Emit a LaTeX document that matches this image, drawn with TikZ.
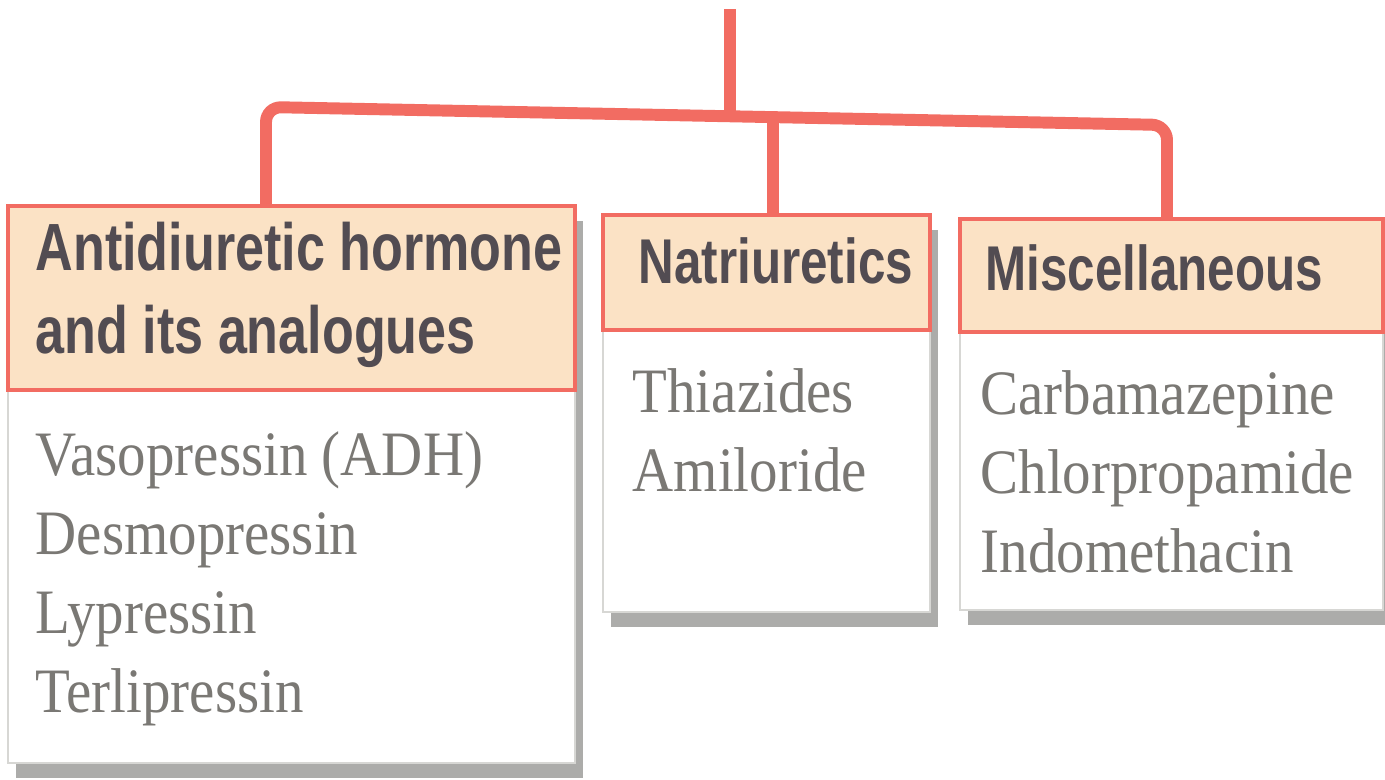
\documentclass[tikz,border=0pt]{standalone}
\usepackage{fontspec}
\usepackage{xcolor}
\usepackage{tikz}
\usetikzlibrary{positioning,calc,backgrounds}
\newfontfamily\headfont[FakeStretch=0.78]{Liberation Sans}
\newfontfamily\listfont[FakeStretch=0.9]{Liberation Serif}
\definecolor{cRed}{RGB}{242,108,98}
\definecolor{cPeach}{RGB}{251,226,197}
\definecolor{cHead}{RGB}{82,76,82}
\definecolor{cItem}{RGB}{122,120,116}
\definecolor{cShade}{RGB}{172,172,170}
\definecolor{cEdge}{RGB}{215,215,212}

\begin{document}
\begin{tikzpicture}[
  box/.style={draw, outer sep=0pt, inner sep=0pt},
  head/.style={box, fill=cPeach, draw=cRed, line width=1pt},
  list/.style={box, fill=white, draw=cEdge, line width=0.5pt},
  headtext/.style={anchor=base west, inner sep=0pt, align=left, text=cHead,
    font=\headfont\bfseries\fontsize{18}{23.6}\selectfont},
  listtext/.style={anchor=base west, inner sep=0pt, align=left, text=cItem,
    font=\listfont\fontsize{18}{22.4}\selectfont},
  link/.style={draw=cRed, line width=3.4pt, rounded corners=0.15cm},
  boxshadow/.style={fill=cShade},
]
  \useasboundingbox (0,0) rectangle (13.85,-7.79);

  \node[list, anchor=north west, minimum width=5.67cm, minimum height=3.73cm] at (0.08,-3.90) (adhlist) {};
  \node[head, minimum width=5.67cm, minimum height=1.84cm, above=0pt of adhlist] (adh) {};
  \node[list, anchor=north west, minimum width=3.27cm, minimum height=2.82cm] at (6.03,-3.30) (natlist) {};
  \node[head, minimum width=3.27cm, minimum height=1.15cm, above=0pt of natlist] (nat) {};
  \node[list, anchor=north west, minimum width=4.23cm, minimum height=2.78cm] at (9.60,-3.32) (misclist) {};
  \node[head, minimum width=4.23cm, minimum height=1.13cm, above=0pt of misclist] (misc) {};

  % base anchor of a multi-line node sits on its last line
  \node[headtext, font=\headfont\bfseries\fontsize{19}{23.6}\selectfont]
    at ([shift={(0.27,-1.47)}]adh.north west) (adhname) {Antidiuretic hormone\\and its analogues};
  \node[headtext] at ([shift={(0.35,-0.68)}]nat.north west) (natname) {Natriuretics};
  \node[headtext] at ([shift={(0.25,-0.71)}]misc.north west) (miscname) {Miscellaneous};

  \node[listtext] at ([shift={(0.27,-3.22)}]adhlist.north west) (adhitems)
    {Vasopressin (ADH)\\Desmopressin\\Lypressin\\Terlipressin};
  \node[listtext] at ([shift={(0.29,-1.61)}]natlist.north west) (natitems)
    {Thiazides\\Amiloride};
  \node[listtext] at ([shift={(0.20,-2.40)}]misclist.north west) (miscitems)
    {Carbamazepine\\Chlorpropamide\\Indomethacin};

  \coordinate (root) at (7.30,-0.09);
  \coordinate (barL) at (2.66,-1.07);
  \coordinate (barR) at (11.67,-1.25);
  \coordinate (barS) at ($(barL)!0.515!(barR)$);
  \coordinate (barM) at ($(barL)!0.5627!(barR)$);
  \draw[link] (barL |- adh.north) -- (barL) -- (barR) -- (barR |- misc.north);
  \draw[link] (root) -- (barS);
  \draw[link] (barM) -- (barM |- nat.north);

  \begin{scope}[on background layer]
    \foreach \b in {adh,nat,misc}
      \fill[boxshadow] ([shift={(0.08,-0.15)}]\b.north west) rectangle ([shift={(0.08,-0.15)}]\b list.south east);
  \end{scope}
\end{tikzpicture}
\end{document}
